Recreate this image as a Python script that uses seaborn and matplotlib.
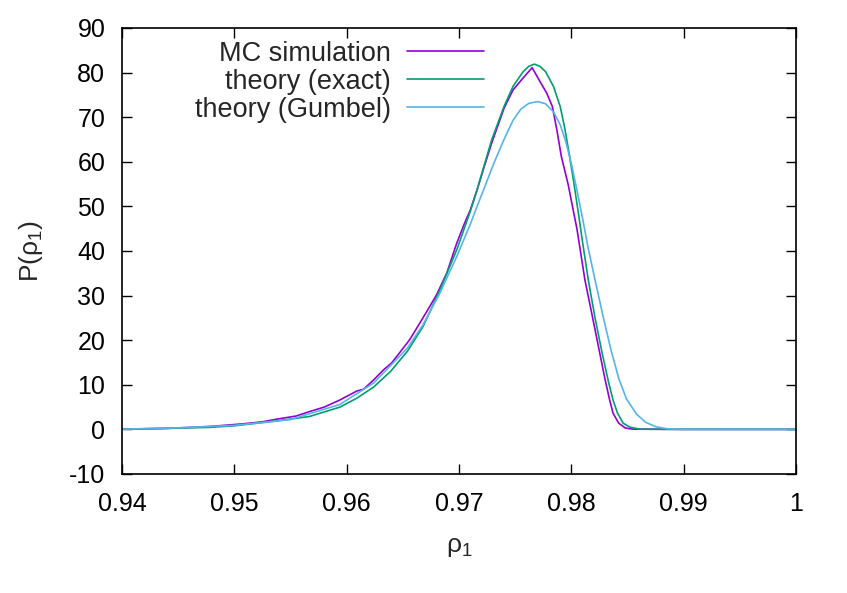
import numpy as np
import pandas as pd
import matplotlib
matplotlib.use("Agg")
import matplotlib.pyplot as plt
import seaborn as sns

# values
mc_x = [0.9400, 0.9440, 0.9478, 0.9508, 0.9525, 0.9538, 0.9555, 0.9567, 0.9580,
        0.9594, 0.9609, 0.9615, 0.9624, 0.9633, 0.9640, 0.9649, 0.9656, 0.9665,
        0.9674, 0.9680, 0.9689, 0.9698, 0.9705, 0.9710, 0.9716, 0.9722, 0.9729,
        0.9740, 0.9748, 0.9757, 0.9765, 0.9772, 0.9778, 0.9783, 0.9787, 0.9791,
        0.9797, 0.9805, 0.9812, 0.9818, 0.9824, 0.9830, 0.9834, 0.9837, 0.9842,
        0.9848, 0.9855, 0.9900, 1.0000]
mc_y = [0.05, 0.2, 0.65, 1.25, 1.7, 2.3, 3.0, 4.0, 5.0,
        6.6, 8.6, 9.0, 11.1, 13.4, 14.9, 17.8, 20.1, 23.8,
        27.6, 30.2, 35.0, 41.8, 46.3, 49.2, 53.7, 58.6, 64.2,
        72.0, 76.1, 78.8, 81.1, 78.0, 75.4, 72.4, 67.2, 61.2,
        55.0, 44.8, 33.5, 26.1, 18.6, 11.1, 6.6, 3.65, 1.4,
        0.3, 0.05, 0.0, 0.0]

exact_x = [0.9400, 0.9450, 0.9478, 0.9500, 0.9538, 0.9567, 0.9594, 0.9609,
           0.9624, 0.9639, 0.9654, 0.9668, 0.9683, 0.9698, 0.9710, 0.9716,
           0.9729, 0.9740, 0.9748, 0.9757, 0.9762, 0.9767, 0.9772, 0.9777,
           0.9784, 0.9790, 0.9794, 0.9798, 0.9802, 0.9806, 0.9810, 0.9815,
           0.9821, 0.9827, 0.9833, 0.9837, 0.9841, 0.9846, 0.9852, 0.9861,
           0.9900, 1.0000]
exact_y = [0.05, 0.3, 0.45, 0.8, 1.9, 2.9, 5.0, 7.0,
           9.5, 13.0, 17.5, 23.1, 31.3, 40.3, 48.9, 53.7,
           64.9, 72.4, 76.9, 80.2, 81.4, 81.9, 81.4, 80.2,
           76.9, 72.4, 67.6, 61.8, 55.5, 48.8, 41.8, 33.5,
           25.0, 17.5, 10.6, 6.6, 3.65, 1.4, 0.5, 0.05,
           0.0, 0.0]

gumbel_x = [0.9400, 0.9450, 0.9500, 0.9550, 0.9594, 0.9624, 0.9654, 0.9668,
            0.9683, 0.9698, 0.9710, 0.9716, 0.9723, 0.9731, 0.9740, 0.9748,
            0.9755, 0.9762, 0.9770, 0.9777, 0.9784, 0.9790, 0.9795, 0.9800,
            0.9805, 0.9810, 0.9815, 0.9821, 0.9828, 0.9835, 0.9842, 0.9849,
            0.9858, 0.9866, 0.9875, 0.9885, 0.9895, 1.0000]
gumbel_y = [0.05, 0.35, 0.9, 2.2, 5.6, 10.4, 18.2, 23.5,
            30.6, 38.8, 46.0, 50.0, 54.5, 59.7, 65.0, 69.3,
            71.8, 73.1, 73.5, 73.0, 71.2, 68.3, 64.5, 59.5,
            53.5, 47.2, 40.5, 33.5, 25.5, 18.0, 11.5, 6.8,
            3.4, 1.6, 0.6, 0.15, 0.02, 0.0]

labels = ["MC simulation", "theory (exact)", "theory (Gumbel)"]
colors = ["#9400d3", "#009e73", "#56b4e9"]
xticks = [0.94, 0.95, 0.96, 0.97, 0.98, 0.99, 1.0]
xticklabels = ["0.94", "0.95", "0.96", "0.97", "0.98", "0.99", "1"]
yticks = list(range(-10, 91, 10))

df = pd.concat([
    pd.DataFrame({"rho": mc_x, "P": mc_y, "series": labels[0]}),
    pd.DataFrame({"rho": exact_x, "P": exact_y, "series": labels[1]}),
    pd.DataFrame({"rho": gumbel_x, "P": gumbel_y, "series": labels[2]}),
])

sns.set_style("ticks")
plt.rcParams["font.family"] = ["Liberation Sans", "DejaVu Sans"]
plt.rcParams["mathtext.default"] = "regular"
plt.rcParams["axes.unicode_minus"] = False

fig = plt.figure(figsize=(8.47, 5.93), dpi=100)
ax = fig.add_axes([0.144, 0.2007, 0.796, 0.7521])

sns.lineplot(data=df, x="rho", y="P", hue="series", hue_order=labels,
             palette=colors, linewidth=1.2, ax=ax, sort=False, estimator=None)

ax.set_xlim(0.94, 1.0)
ax.set_ylim(-10, 90)
ax.set_xticks(xticks)
ax.set_xticklabels(xticklabels)
ax.set_yticks(yticks)
ax.tick_params(direction="in", length=7, width=1.0, top=True, right=True,
               labelsize=18, colors="black")
ax.tick_params(axis="x", pad=13)
ax.tick_params(axis="y", pad=12)
for s in ax.spines.values():
    s.set_visible(True)
    s.set_linewidth(1.2)
    s.set_color("black")

ax.set_xlabel("ρ$_1$", fontsize=19, labelpad=14)
ax.set_ylabel("P(ρ$_1$)", fontsize=19, labelpad=17)

leg = ax.legend(loc="upper right", bbox_to_anchor=(0.537, 0.971),
                frameon=False, fontsize=19.5, markerfirst=False,
                handlelength=2.84, handletextpad=0.59, labelspacing=0.07,
                borderpad=0, borderaxespad=0)

fig.savefig("out.png", dpi=100)
